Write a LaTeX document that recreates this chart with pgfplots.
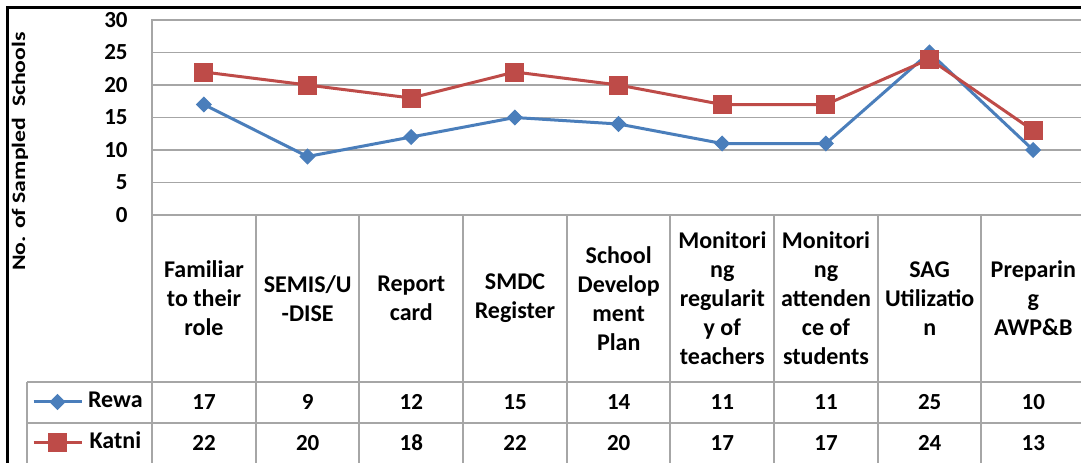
\documentclass[border=0pt]{standalone}
\usepackage{fontspec}
\setmainfont{Carlito}
\usepackage{graphicx}
\usepackage{pgfplots}
\usepackage{pgfplotstable}
\pgfplotsset{compat=1.18}
\definecolor{rewa}{HTML}{4A7EBB}
\definecolor{katni}{HTML}{BE4B48}
\definecolor{gridc}{HTML}{A6A6A6}

\pgfplotstableread{
x rewa katni
0 17 22
1 9 20
2 12 18
3 15 22
4 14 20
5 11 17
6 11 17
7 25 24
8 10 13
}\data

\begin{document}
\begin{tikzpicture}[x=0.5pt,y=-0.5pt,font=\bfseries]
\path[use as bounding box, clip] (0,0) rectangle (1081,462);
\fill[white] (0,0) rectangle (1081,462);
\begin{axis}[at={(76pt,-107.5pt)}, anchor=south west, scale only axis,
  width=466.5pt, height=97.5pt,
  xmin=-0.5, xmax=8.5, ymin=0, ymax=30,
  ytick={0,5,...,30}, xtick=\empty,
  ymajorgrids, grid style={gridc, line width=0.9pt},
  axis line style={gridc, line width=0.9pt},
  major tick length=0pt,
  /pgf/number format/assume math mode=true,
  yticklabel style={font=\bfseries\fontsize{11.5}{12}\selectfont, anchor=east, inner sep=0pt, xshift=-12pt},
  legend style={draw=none, fill=none, at={(-0.1290,-1.064)}, anchor=west,
    font=\bfseries\fontsize{12}{14}\selectfont, inner sep=0pt, row sep=9pt,
    nodes={inner sep=0pt, text height=8.5pt, text depth=3pt},
    /tikz/every odd column/.append style={column sep=2.5pt}},
  legend image code/.code={\draw[mark repeat=2, mark phase=2, #1] plot coordinates {(0pt,0pt) (12pt,0pt) (24pt,0pt)};},
  clip=false]
\addplot[rewa, line width=1.5pt, mark=square*, mark size=2.6pt, mark options={rotate=45, solid, line width=0.5pt}] table[x=x,y=rewa]{\data};
\addplot[katni, line width=1.5pt, mark=square*, mark size=4.5pt, mark options={solid, line width=0.5pt}] table[x=x,y=katni]{\data};
\legend{Rewa, Katni}
\end{axis}
\draw[gridc, line width=0.9pt] foreach \i in {0,...,9} {(152+\i*103.67, 215) -- (152+\i*103.67, 470)};
\draw[gridc, line width=0.9pt] (27,382) -- (1090,382) (27,423) -- (1090,423) (27,382) -- (27,470);
\draw[black, line width=1.1pt] (7.5,470) -- (7.5,7.5) -- (1090,7.5);
\node[rotate=90, font=\bfseries\fontsize{9.5}{11}\selectfont] at (20,151.5) {\scalebox{1.25}[1]{No. of Sampled\ \ Schools}};
\begin{scope}[every node/.style={align=center, font=\bfseries\fontsize{12}{14.5}\selectfont, inner sep=0pt}]
\node at (204,298.5) {Familiar\\to their\\role};
\node at (307.7,298.5) {SEMIS/U\\-DISE};
\node at (411.3,298.5) {Report\\card};
\node at (515,298.5) {SMDC\\Register};
\node at (618.7,298.5) {School\\Develop\\ment\\Plan};
\node at (722.3,298.5) {Monitori\\ng\\regularit\\y of\\teachers};
\node at (826,298.5) {Monitori\\ng\\attenden\\ce of\\students};
\node at (929.7,298.5) {SAG\\Utilizatio\\n};
\node at (1033.3,298.5) {Preparin\\g\\AWP\&B};
\end{scope}
\foreach \i in {0,...,8} {
  \pgfplotstablegetelem{\i}{rewa}\of\data
  \node[font=\bfseries\fontsize{11.5}{12}\selectfont, inner sep=0pt] at (204+\i*103.67,402) {\pgfplotsretval};
  \pgfplotstablegetelem{\i}{katni}\of\data
  \node[font=\bfseries\fontsize{11.5}{12}\selectfont, inner sep=0pt] at (204+\i*103.67,443) {\pgfplotsretval};
}
\end{tikzpicture}
\end{document}
